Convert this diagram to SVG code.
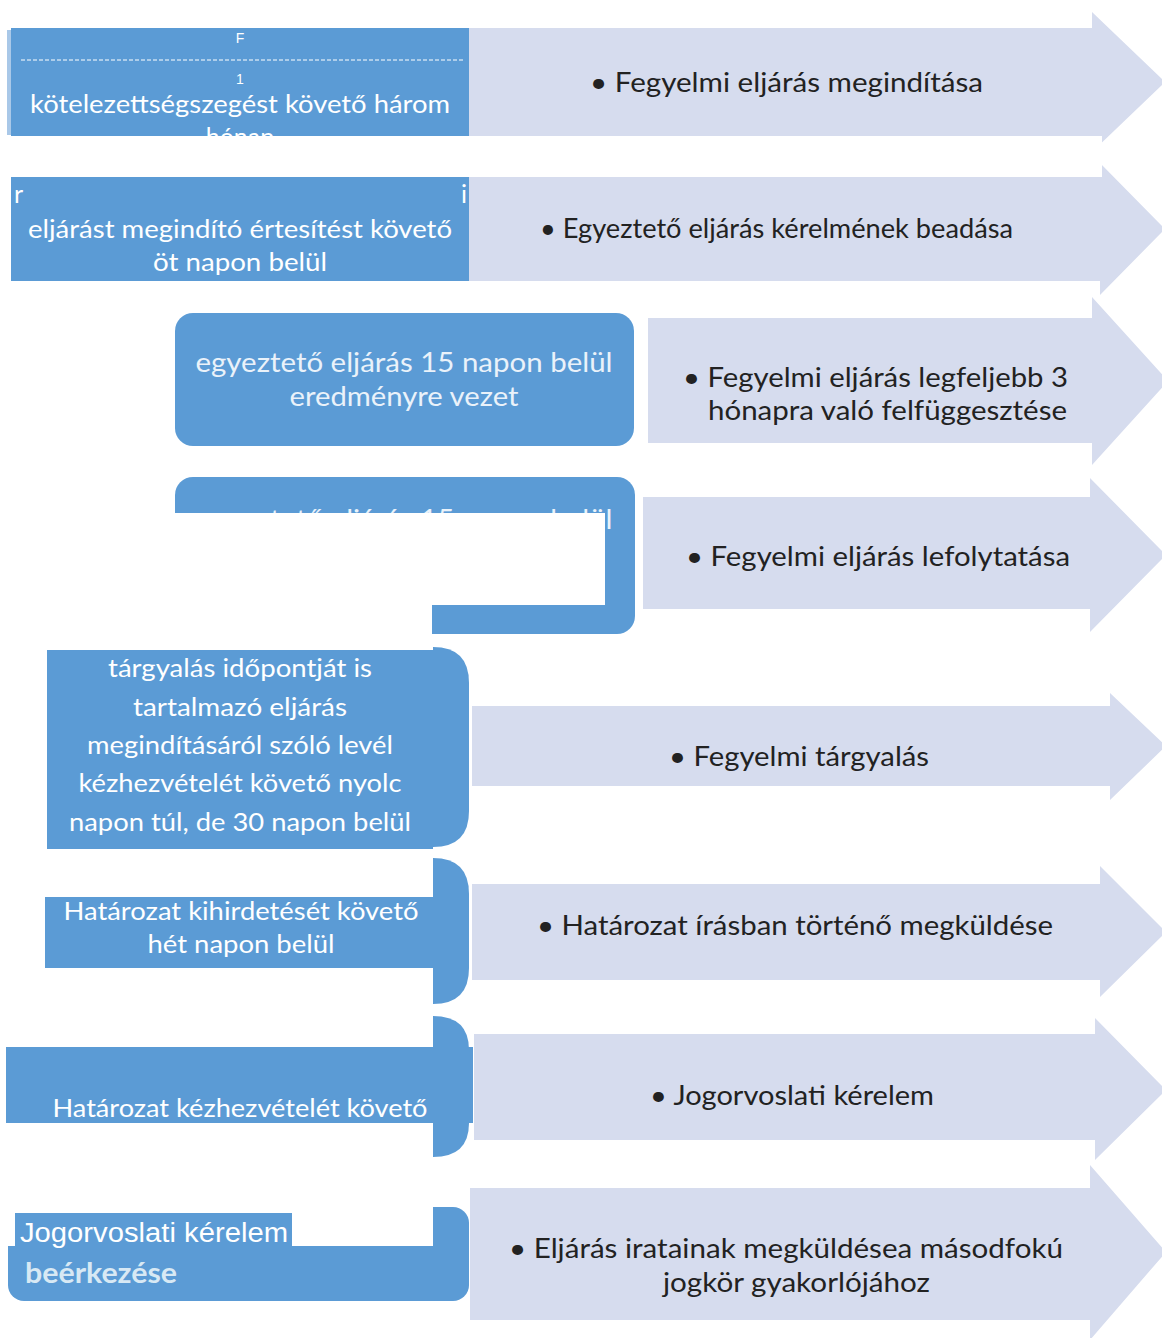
<svg xmlns="http://www.w3.org/2000/svg" width="1162" height="1338" viewBox="0 0 1162 1338">
<style>
.arrow{fill:#d6dcee}
.blue{fill:#5b9bd5}
.wh{fill:#ffffff}
.lt{font-family:Lato,"Open Sans",sans-serif;font-size:25px;fill:#ffffff;text-anchor:middle}
.rt{font-family:Lato,"Open Sans",sans-serif;font-size:27px;fill:#222222}
.bt{font-family:Lato,"Open Sans",sans-serif;font-size:27px;fill:#eaf2fa;text-anchor:middle}
.sm{font-family:"Liberation Sans",Arial,sans-serif;font-size:14px;fill:#ffffff;text-anchor:middle}
</style>
<rect width="1162" height="1338" fill="#ffffff"/>

<g id="connectors">
  <path class="arrow" d="M469,28 H1092 V12 L1165,82 L1092,152 V136 H469 Z"/>
  <path class="arrow" d="M469,177 H1100 V163 L1165,229 L1100,295 V281 H469 Z"/>
  <path class="arrow" d="M648,318 H1092 V297 L1168,381 L1092,465 V443 H648 Z"/>
  <path class="arrow" d="M643,497 H1090 V478 L1166,555 L1090,632 V609 H643 Z"/>
  <path class="arrow" d="M472,706 H1110 V693 L1166,746 L1110,800 V786 H472 Z"/>
  <path class="arrow" d="M472,884 H1100 V866 L1166,932 L1100,997 V980 H472 Z"/>
  <path class="arrow" d="M474,1034 H1095 V1018 L1166,1090 L1095,1160 V1140 H474 Z"/>
  <path class="arrow" d="M470,1188 H1090 V1165 L1166,1252 L1090,1340 V1320 H470 Z"/>
</g>

<g id="row1">
  <rect x="7" y="30" width="8" height="105" fill="#a9c8e8"/>
  <rect class="blue" x="11" y="28" width="458" height="108"/>
  <text class="sm" x="240" y="43">F</text>
  <line x1="21" y1="60" x2="463" y2="60" stroke="#ffffff" stroke-width="1" stroke-dasharray="4 2"/>
  <text class="sm" x="240" y="84">1</text>
  <text class="lt" x="240" y="113" textLength="420" lengthAdjust="spacingAndGlyphs">kötelezettségszegést követő három</text>
  <text class="lt" x="240" y="146">hónap</text>
  <rect class="wh" x="11" y="136" width="1091" height="41"/>
  <text class="rt" x="590" y="92" textLength="393" lengthAdjust="spacingAndGlyphs">• Fegyelmi eljárás megindítása</text>
</g>

<g id="row2">
  <rect class="blue" x="11" y="177" width="458" height="104"/>
  <text class="lt" x="14" y="203" style="text-anchor:start">r</text>
  <text class="lt" x="464" y="203">i</text>
  <text class="lt" x="240" y="238" textLength="424" lengthAdjust="spacingAndGlyphs">eljárást megindító értesítést követő</text>
  <text class="lt" x="240" y="271" textLength="174" lengthAdjust="spacingAndGlyphs">öt napon belül</text>
  <text class="rt" x="540" y="238" textLength="473" lengthAdjust="spacingAndGlyphs">• Egyeztető eljárás kérelmének beadása</text>
</g>

<g id="row3">
  <rect class="blue" x="175" y="313" width="459" height="133" rx="18"/>
  <text class="bt" x="404" y="372" textLength="417" lengthAdjust="spacingAndGlyphs">egyeztető eljárás 15 napon belül</text>
  <text class="bt" x="404" y="406" textLength="229" lengthAdjust="spacingAndGlyphs">eredményre vezet</text>
  <text class="rt" x="683" y="387" textLength="385" lengthAdjust="spacingAndGlyphs">• Fegyelmi eljárás legfeljebb 3</text>
  <text class="rt" x="708" y="420" textLength="359" lengthAdjust="spacingAndGlyphs">hónapra való felfüggesztése</text>
</g>

<g id="row4">
  <rect class="blue" x="175" y="477" width="460" height="157" rx="18"/>
  <text class="bt" x="404" y="529" textLength="417" lengthAdjust="spacingAndGlyphs">egyeztető eljárás 15 napon belül</text>
  <rect class="wh" x="0" y="513" width="605" height="92"/>
  <rect class="wh" x="0" y="605" width="432" height="43"/>
  <text class="rt" x="686" y="566" textLength="384" lengthAdjust="spacingAndGlyphs">• Fegyelmi eljárás lefolytatása</text>
</g>

<g id="row5">
  <path class="blue" d="M433,647 Q469,647 469,683 V811 Q469,847 433,847 Z"/>
  <rect class="blue" x="47" y="650" width="386" height="199"/>
  <text class="lt" x="240" y="677" textLength="264" lengthAdjust="spacingAndGlyphs">tárgyalás időpontját is</text>
  <text class="lt" x="240" y="716" textLength="214" lengthAdjust="spacingAndGlyphs">tartalmazó eljárás</text>
  <text class="lt" x="240" y="754" textLength="306" lengthAdjust="spacingAndGlyphs">megindításáról szóló levél</text>
  <text class="lt" x="240" y="792" textLength="323" lengthAdjust="spacingAndGlyphs">kézhezvételét követő nyolc</text>
  <text class="lt" x="240" y="831" textLength="342" lengthAdjust="spacingAndGlyphs">napon túl, de 30 napon belül</text>
  <text class="rt" x="669" y="766" textLength="260" lengthAdjust="spacingAndGlyphs">• Fegyelmi tárgyalás</text>
</g>

<g id="row6">
  <path class="blue" d="M433,858 Q469,858 469,894 V968 Q469,1004 433,1004 Z"/>
  <rect class="blue" x="45" y="897" width="388" height="71"/>
  <text class="lt" x="241" y="920" textLength="355" lengthAdjust="spacingAndGlyphs">Határozat kihirdetését követő</text>
  <text class="lt" x="241" y="953" textLength="187" lengthAdjust="spacingAndGlyphs">hét napon belül</text>
  <text class="rt" x="537" y="935" textLength="516" lengthAdjust="spacingAndGlyphs">• Határozat írásban történő megküldése</text>
</g>

<g id="row7">
  <path class="blue" d="M433,1016 Q469,1016 469,1050 V1123 Q469,1157 433,1157 Z"/>
  <rect class="blue" x="6" y="1047" width="467" height="76"/>
  <text class="lt" x="240" y="1117" textLength="375" lengthAdjust="spacingAndGlyphs">Határozat kézhezvételét követő</text>
  <text class="rt" x="650" y="1105" textLength="284" lengthAdjust="spacingAndGlyphs">• Jogorvoslati kérelem</text>
</g>

<g id="row8">
  <rect class="blue" x="8" y="1207" width="461" height="94" rx="16"/>
  <rect class="wh" x="0" y="1195" width="433" height="51"/>
  <rect x="8" y="1246" width="20" height="20" class="blue"/>
  <text x="25" y="1283" font-family="Lato,'Open Sans',sans-serif" font-size="29" font-weight="bold" fill="#d8e9f4" textLength="152" lengthAdjust="spacingAndGlyphs">beérkezése</text>
  <rect class="blue" x="15" y="1213" width="277" height="34"/>
  <text x="20" y="1242" font-family="'Liberation Sans',Arial,sans-serif" font-size="27" fill="#ffffff" textLength="268" lengthAdjust="spacingAndGlyphs">Jogorvoslati kérelem</text>
  <text class="rt" x="509" y="1258" textLength="554" lengthAdjust="spacingAndGlyphs">• Eljárás iratainak megküldésea másodfokú</text>
  <text class="rt" x="663" y="1292" textLength="267" lengthAdjust="spacingAndGlyphs">jogkör gyakorlójához</text>
</g>
</svg>
